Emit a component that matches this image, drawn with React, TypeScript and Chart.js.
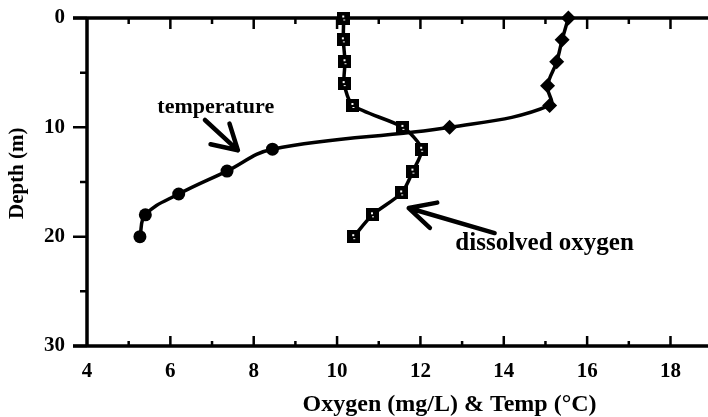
import React, { useEffect, useRef } from "react";
import { Chart, registerables } from "chart.js";

Chart.register(...registerables);

// ---- data ----
const tempDepths = [0, 2, 4, 6.2, 8, 10, 12, 14, 16.1, 18, 20];
const temperature = [15.55, 15.4, 15.27, 15.05, 15.1, 12.7, 8.45, 7.36, 6.2, 5.4, 5.27];
const oxyDepths = [0, 2, 4, 6, 8, 10, 12, 14, 16, 18, 20];
const oxygen = [10.16, 10.15, 10.19, 10.17, 10.38, 11.58, 12.03, 11.82, 11.55, 10.85, 10.4];

const xTickLabels = [4, 6, 8, 10, 12, 14, 16, 18];
const xMinorTicks = [5, 7, 9, 11, 13, 15, 17];
const yTickLabels = [0, 10, 20, 30];
const yMinorTicks = [5, 15, 25];

const xTitle = "Oxygen (mg/L) & Temp (°C)";
const yTitle = "Depth (m)";

const labels = [
  { text: "temperature", x: 7.09, y: 8.2, size: 22 },
  { text: "dissolved oxygen", x: 14.98, y: 20.65, size: 25 },
];
const arrows = [
  { from: [6.83, 9.33], to: [7.62, 12.1], head: 28, spread: 30 },
  { from: [13.78, 19.67], to: [11.72, 17.38], head: 29, spread: 27 },
];

const FONT = '"Liberation Serif", "DejaVu Serif", serif';

export default function App() {
  const ref = useRef<HTMLCanvasElement>(null);

  useEffect(() => {
    document.body.style.margin = "0";
    const sq = document.createElement("canvas");
    sq.width = 13;
    sq.height = 13;
    const c = sq.getContext("2d")!;
    c.fillStyle = "#000";
    c.fillRect(0, 0, 13, 13);
    c.fillStyle = "#fff";
    c.fillRect(5, 4, 2, 2);
    c.fillRect(6, 8, 2, 1);

    const axesPlugin = {
      id: "axesPlugin",
      beforeDatasetsDraw(chart: any) {
        const ctx = chart.ctx as CanvasRenderingContext2D;
        const { left, right, top, bottom } = chart.chartArea;
        const xs = chart.scales.x;
        const ys = chart.scales.y;
        ctx.save();
        ctx.strokeStyle = "#000";
        ctx.lineWidth = 3.5;
        ctx.lineCap = "butt";
        ctx.beginPath();
        ctx.moveTo(left - 14, top);
        ctx.lineTo(right, top);
        ctx.moveTo(left - 14, bottom);
        ctx.lineTo(right, bottom);
        ctx.moveTo(left, top);
        ctx.lineTo(left, bottom);
        ctx.stroke();
        ctx.lineWidth = 2.5;
        ctx.beginPath();
        for (const v of yTickLabels) {
          const p = ys.getPixelForValue(v);
          ctx.moveTo(left - 14, p);
          ctx.lineTo(left, p);
        }
        for (const v of yMinorTicks) {
          const p = ys.getPixelForValue(v);
          ctx.moveTo(left - 7, p);
          ctx.lineTo(left, p);
        }
        for (const v of xTickLabels) {
          const p = xs.getPixelForValue(v);
          if (v === 4) continue;
          ctx.moveTo(p, bottom);
          ctx.lineTo(p, bottom - 10);
          ctx.moveTo(p, top);
          ctx.lineTo(p, top + 11);
        }
        for (const v of xMinorTicks) {
          const p = xs.getPixelForValue(v);
          ctx.moveTo(p, bottom);
          ctx.lineTo(p, bottom - 5);
          ctx.moveTo(p, top);
          ctx.lineTo(p, top + 6);
        }
        ctx.stroke();
        ctx.restore();
      },
      afterDraw(chart: any) {
        const ctx = chart.ctx as CanvasRenderingContext2D;
        const xs = chart.scales.x;
        const ys = chart.scales.y;
        ctx.save();
        ctx.fillStyle = "#000";
        ctx.strokeStyle = "#000";
        // axis titles
        ctx.textAlign = "center";
        ctx.textBaseline = "middle";
        ctx.font = `bold 24px ${FONT}`;
        ctx.fillText(xTitle, xs.getPixelForValue(12.7), 405);
        ctx.font = `bold 21px ${FONT}`;
        ctx.save();
        ctx.translate(18, ys.getPixelForValue(14.2));
        ctx.rotate(-Math.PI / 2);
        ctx.fillText(yTitle, 0, 0);
        ctx.restore();
        // labels
        for (const l of labels) {
          ctx.font = `bold ${l.size}px ${FONT}`;
          ctx.fillText(l.text, xs.getPixelForValue(l.x), ys.getPixelForValue(l.y));
        }
        // arrows
        ctx.lineWidth = 4.5;
        ctx.lineCap = "round";
        ctx.lineJoin = "round";
        for (const a of arrows) {
          const x1 = xs.getPixelForValue(a.from[0]);
          const y1 = ys.getPixelForValue(a.from[1]);
          const x2 = xs.getPixelForValue(a.to[0]);
          const y2 = ys.getPixelForValue(a.to[1]);
          const back = Math.atan2(y1 - y2, x1 - x2);
          const s = (a.spread * Math.PI) / 180;
          ctx.beginPath();
          ctx.moveTo(x1, y1);
          ctx.lineTo(x2, y2);
          ctx.moveTo(x2 + a.head * Math.cos(back + s), y2 + a.head * Math.sin(back + s));
          ctx.lineTo(x2, y2);
          ctx.lineTo(x2 + a.head * Math.cos(back - s), y2 + a.head * Math.sin(back - s));
          ctx.stroke();
        }
        ctx.restore();
      },
    };

    const tempStyles = tempDepths.map((d) => (d <= 10 ? "rectRot" : "circle"));
    const tempRadius = tempDepths.map((d) => (d <= 10 ? 7.5 : 6.5));

    const chart = new Chart(ref.current!, {
      type: "scatter",
      data: {
        datasets: [
          {
            label: "temperature",
            data: temperature.map((v, i) => ({ x: v, y: tempDepths[i] })),
            showLine: true,
            borderColor: "#000",
            backgroundColor: "#000",
            borderWidth: 3.5,
            tension: 0.4,
            pointStyle: tempStyles as any,
            pointRadius: tempRadius,
            pointBorderWidth: 0,
            clip: false as any,
          },
          {
            label: "dissolved oxygen",
            data: oxygen.map((v, i) => ({ x: v, y: oxyDepths[i] })),
            showLine: true,
            borderColor: "#000",
            backgroundColor: "#000",
            borderWidth: 3.5,
            tension: 0.25,
            pointStyle: sq as any,
            pointRadius: 6,
            clip: false as any,
          },
        ],
      },
      options: {
        responsive: false,
        animation: false,
        events: [],
        layout: { autoPadding: false, padding: { top: 18, right: 0, left: 0, bottom: 0 } },
        plugins: {
          legend: { display: false },
          tooltip: { enabled: false },
        },
        scales: {
          x: {
            type: "linear",
            min: 4,
            max: 18.9,
            grid: { display: false, drawTicks: false },
            border: { display: false },
            afterBuildTicks: (s: any) => {
              s.ticks = xTickLabels.map((v) => ({ value: v }));
            },
            afterFit: (s: any) => {
              s.height = 71;
              s.paddingLeft = 0;
              s.paddingRight = 0;
            },
            ticks: {
              color: "#000",
              padding: 13,
              maxRotation: 0,
              font: { family: FONT, size: 21, weight: "bold" },
            },
          },
          y: {
            type: "linear",
            reverse: true,
            min: 0,
            max: 30,
            grid: { display: false, drawTicks: false },
            border: { display: false },
            afterBuildTicks: (s: any) => {
              s.ticks = yTickLabels.map((v) => ({ value: v }));
            },
            afterFit: (s: any) => {
              s.width = 87;
              s.paddingTop = 0;
              s.paddingBottom = 0;
            },
            ticks: {
              color: "#000",
              padding: 22,
              font: { family: FONT, size: 21, weight: "bold" },
            },
          },
        },
      },
      plugins: [axesPlugin],
    });
    return () => chart.destroy();
  }, []);

  return (
    <div style={{ width: 708, height: 417 }}>
      <canvas ref={ref} width={708} height={417} style={{ display: "block" }} />
    </div>
  );
}
